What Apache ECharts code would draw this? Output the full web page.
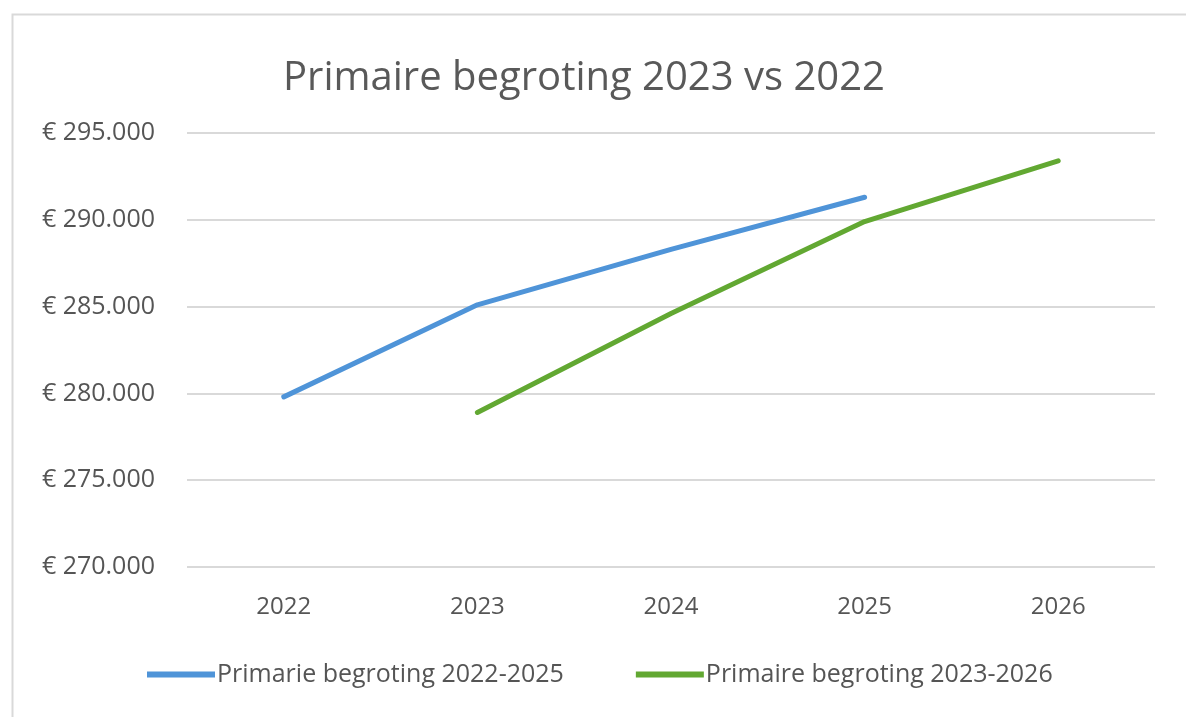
<!DOCTYPE html>
<html>
<head>
<meta charset="utf-8">
<script src="https://cdn.jsdelivr.net/npm/echarts@6/dist/echarts.min.js"></script>
<style>html,body{margin:0;padding:0;background:#fff;}#c{width:1186px;height:717px;}</style>
</head>
<body>
<div id="c"></div>
<script>
const titleText = 'Primaire begroting 2023 vs 2022';
const years = ['2022', '2023', '2024', '2025', '2026'];
const seriesNames = ['Primarie begroting 2022-2025', 'Primaire begroting 2023-2026'];
const begroting2022 = [279800, 285100, 288300, 291300, null];
const begroting2023 = [null, 278900, 284600, 289900, 293400];
const yMin = 270000, yMax = 295000, yStep = 5000;

const font = '"Open Sans", "Noto Sans", sans-serif';
const chart = echarts.init(document.getElementById('c'));
chart.setOption({
  backgroundColor: '#fff',
  animation: false,
  graphic: [{
    type: 'rect', left: 10, top: 12,
    shape: { width: 1200, height: 720 },
    style: { fill: 'none', stroke: '#d9d9d9', lineWidth: 2 }
  }],
  title: {
    text: titleText, left: 278, top: 54,
    textStyle: { fontFamily: font, fontSize: 40, fontWeight: 'normal', color: '#595959' }
  },
  grid: { left: 187, right: 31, top: 133, bottom: 150 },
  xAxis: {
    type: 'category', data: years, boundaryGap: true,
    axisLine: { show: false }, axisTick: { show: false },
    axisLabel: { fontFamily: font, fontSize: 24, color: '#555', margin: 28 }
  },
  yAxis: {
    type: 'value', min: yMin, max: yMax, interval: yStep,
    axisLine: { show: false }, axisTick: { show: false },
    splitLine: { lineStyle: { color: '#d9d9d9', width: 2 } },
    axisLabel: {
      fontFamily: font, fontSize: 25, color: '#555', margin: 32,
      formatter: v => '€ ' + v.toLocaleString('de-DE')
    }
  },
  legend: {
    left: 142, top: 657, itemGap: 72, itemWidth: 68, itemHeight: 6,
    icon: 'rect',
    textStyle: { fontFamily: font, fontSize: 25, color: '#555', padding: [0, 0, 0, -3] },
    data: seriesNames
  },
  series: [
    { name: seriesNames[0], type: 'line', data: begroting2022, showSymbol: false, symbol: 'none',
      color: '#4f94d8', lineStyle: { width: 5, color: '#4f94d8', cap: 'round' } },
    { name: seriesNames[1], type: 'line', data: begroting2023, showSymbol: false, symbol: 'none',
      color: '#62a832', lineStyle: { width: 5, color: '#62a832', cap: 'round' } }
  ]
});
</script>
</body>
</html>
